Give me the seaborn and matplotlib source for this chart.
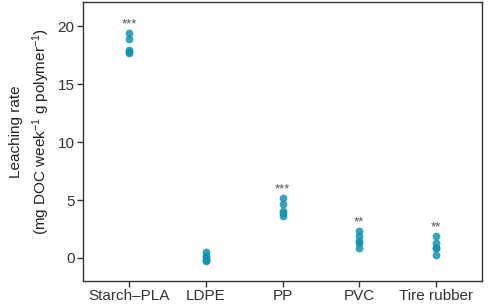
import numpy as np
import pandas as pd
import seaborn as sns
import matplotlib.pyplot as plt

# --- Data ---
polymers = ['Starch\u2013PLA', 'LDPE', 'PP', 'PVC', 'Tire rubber']
starch_pla = [19.4, 18.9, 18.0, 17.8, 17.7]
ldpe = [0.5, 0.2, 0.0, -0.2, -0.3]
pp = [5.2, 4.7, 4.1, 3.9, 3.6]
pvc = [2.3, 1.9, 1.5, 1.3, 0.9]
tire_rubber = [1.9, 1.3, 0.9, 0.85, 0.25]
signif = ['***', '', '***', '**', '**']

df = pd.DataFrame({
    'polymer': np.repeat(polymers, 5),
    'rate': starch_pla + ldpe + pp + pvc + tire_rubber,
})

# --- Plotting ---
sns.set_theme(style='white')
plt.rcParams['font.family'] = ['Liberation Sans', 'DejaVu Sans']
plt.rcParams['mathtext.fontset'] = 'custom'
plt.rcParams['mathtext.rm'] = 'Liberation Sans'
plt.rcParams['mathtext.it'] = 'Liberation Sans'

fig = plt.figure(figsize=(4.91, 3.07), dpi=100)
ax = fig.add_axes([0.169, 0.085, 0.813, 0.908])

sns.stripplot(data=df, x='polymer', y='rate', order=polymers, jitter=False,
              color='#1193b0', alpha=0.85, size=5.6, linewidth=0, ax=ax)

# significance stars above each group
for i, (vals, s) in enumerate(zip([starch_pla, ldpe, pp, pvc, tire_rubber], signif)):
    if s:
        ax.text(i, max(vals) + 0.5, s, ha='center', va='baseline',
                fontsize=9.5, color='#555555')

ax.set_xlim(-0.6, 4.6)
ax.set_ylim(-1.98, 22.1)
ax.set_yticks([0, 5, 10, 15, 20])
ax.set_xlabel('')
ax.set_ylabel('Leaching rate\n(mg DOC week$^{-1}$ g polymer$^{-1}$)',
              fontsize=11, color='#222222', linespacing=1.45)
ax.yaxis.set_label_coords(-0.078, 0.535)

for sp in ax.spines.values():
    sp.set_visible(True)
    sp.set_color('#333333')
    sp.set_linewidth(1.0)

ax.tick_params(axis='both', which='both', bottom=True, left=True, length=4,
               width=1, color='#333333', labelsize=11, labelcolor='#333333', pad=2)

fig.savefig('out.png', dpi=100)
